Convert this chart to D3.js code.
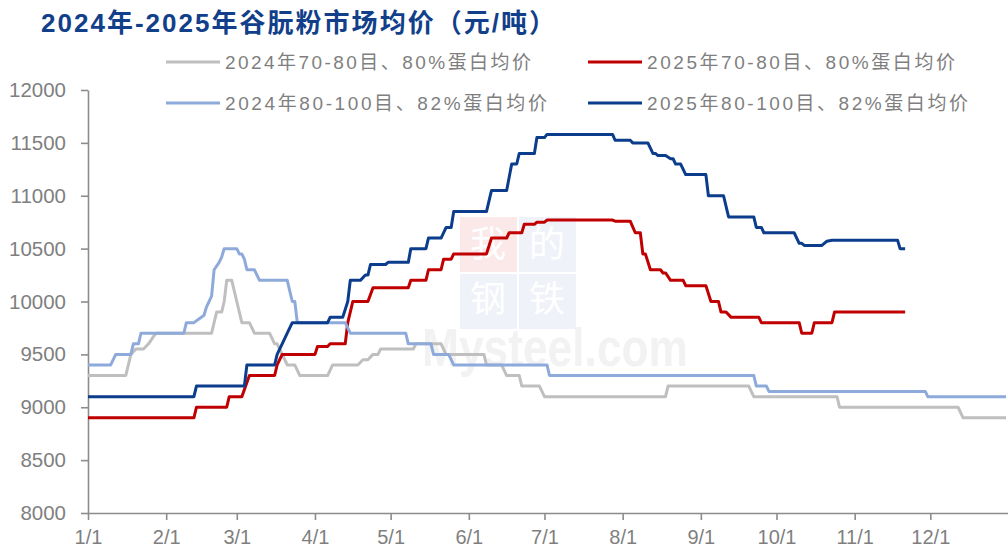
<!DOCTYPE html>
<html>
<head>
<meta charset="utf-8">
<script src="https://cdn.jsdelivr.net/npm/d3@7"></script>
<style>
  body { margin: 0; background: #fff; }
  svg { display: block; }
  text { font-family: "Liberation Sans", "Noto Sans CJK SC", sans-serif; }
</style>
</head>
<body>
<svg id="chart" width="1008" height="551"></svg>
<script>
// titre et séries
const title = "2024年-2025年谷朊粉市场均价（元/吨）";
const seriesNames = [
  "2024年70-80目、80%蛋白均价",
  "2025年70-80目、80%蛋白均价",
  "2024年80-100目、82%蛋白均价",
  "2025年80-100目、82%蛋白均价"
];
const seriesColors = ["#bfbfbf", "#c00000", "#8eaadb", "#0b3d8c"];

const yTicks = [8000, 8500, 9000, 9500, 10000, 10500, 11000, 11500, 12000];
const monthTicks = ["01-01", "02-01", "03-01", "04-01", "05-01", "06-01", "07-01", "08-01", "09-01", "10-01", "11-01", "12-01"];

// [mois-jour, prix]
const gray24 = [["01-01",9300],["01-16",9300],["01-17",9400],["01-18",9500],["01-20",9550],["01-23",9550],["01-25",9600],["01-27",9670],["01-28",9700],["02-19",9700],["02-20",9800],["02-21",9900],["02-23",9900],["02-24",10000],["02-25",10200],["02-27",10200],["03-01",10000],["03-02",9900],["03-03",9800],["03-06",9800],["03-08",9700],["03-14",9700],["03-16",9600],["03-17",9600],["03-19",9500],["03-21",9400],["03-24",9400],["03-26",9300],["04-06",9300],["04-08",9400],["04-18",9400],["04-20",9450],["04-22",9450],["04-24",9500],["04-26",9500],["04-27",9550],["05-10",9550],["05-11",9600],["05-21",9600],["05-23",9500],["06-07",9500],["06-08",9400],["06-14",9400],["06-16",9300],["06-21",9300],["06-22",9200],["06-29",9200],["07-01",9100],["08-18",9100],["08-19",9200],["09-20",9200],["09-22",9100],["10-25",9100],["10-26",9000],["12-12",9000],["12-14",8900],["12-31",8900]];

const red25 = [["01-01",8900],["02-12",8900],["02-13",9000],["02-25",9000],["02-26",9100],["03-03",9100],["03-06",9300],["03-16",9300],["03-17",9400],["03-19",9500],["04-01",9500],["04-02",9575],["04-06",9575],["04-07",9600],["04-13",9600],["04-14",9800],["04-16",10000],["04-22",10000],["04-24",10130],["05-08",10130],["05-09",10200],["05-15",10200],["05-16",10300],["05-21",10300],["05-22",10400],["05-25",10400],["05-26",10450],["06-08",10450],["06-10",10600],["06-16",10600],["06-17",10650],["06-22",10650],["06-23",10730],["06-27",10730],["06-28",10750],["07-01",10750],["07-02",10770],["07-28",10770],["07-29",10760],["08-04",10760],["08-06",10650],["08-08",10650],["08-09",10450],["08-10",10450],["08-12",10300],["08-16",10300],["08-17",10270],["08-18",10270],["08-20",10200],["08-25",10200],["08-26",10150],["09-03",10150],["09-05",10000],["09-08",10000],["09-09",9900],["09-11",9900],["09-13",9850],["09-24",9850],["09-25",9800],["10-10",9800],["10-11",9700],["10-15",9700],["10-16",9800],["10-23",9800],["10-24",9900],["11-21",9900]];

const blue24 = [["01-01",9400],["01-10",9400],["01-12",9500],["01-18",9500],["01-19",9600],["01-21",9600],["01-22",9700],["02-08",9700],["02-09",9800],["02-12",9800],["02-16",9870],["02-17",9950],["02-19",10050],["02-20",10300],["02-22",10370],["02-23",10420],["02-24",10500],["03-01",10500],["03-02",10450],["03-03",10450],["03-04",10400],["03-05",10300],["03-08",10300],["03-10",10200],["03-21",10200],["03-23",10000],["03-24",10000],["03-25",9800],["04-13",9800],["04-15",9700],["05-07",9700],["05-08",9600],["05-17",9600],["05-18",9500],["05-24",9500],["05-26",9400],["07-02",9400],["07-03",9300],["09-22",9300],["09-23",9200],["09-27",9200],["09-28",9150],["11-29",9150],["11-30",9100],["12-31",9100]];

const navy25 = [["01-01",9100],["02-12",9100],["02-13",9200],["03-04",9200],["03-05",9400],["03-16",9400],["03-17",9500],["03-19",9600],["03-21",9700],["03-23",9800],["04-06",9800],["04-07",9850],["04-12",9850],["04-14",10000],["04-15",10200],["04-19",10200],["04-21",10250],["04-22",10250],["04-23",10350],["04-29",10350],["04-30",10370],["05-08",10370],["05-09",10500],["05-15",10500],["05-16",10600],["05-21",10600],["05-23",10700],["05-25",10700],["05-26",10850],["06-08",10850],["06-10",11050],["06-16",11050],["06-18",11300],["06-20",11300],["06-21",11400],["06-27",11400],["06-28",11550],["07-01",11550],["07-02",11580],["07-28",11580],["07-29",11525],["08-04",11525],["08-05",11500],["08-11",11500],["08-13",11400],["08-14",11400],["08-15",11380],["08-18",11380],["08-20",11350],["08-21",11350],["08-22",11300],["08-24",11300],["08-26",11200],["09-03",11200],["09-04",11000],["09-10",11000],["09-12",10800],["09-22",10800],["09-23",10700],["09-25",10700],["09-26",10650],["10-08",10650],["10-10",10550],["10-11",10550],["10-12",10530],["10-19",10530],["10-21",10570],["10-23",10580],["11-18",10580],["11-19",10500],["11-21",10500]];

const seriesData = [gray24, red25, blue24, navy25];

const parseDay = d3.timeParse("%Y-%m-%d");
const toDate = s => parseDay("2025-" + s);

const svg = d3.select("#chart");

const x = d3.scaleTime()
  .domain([toDate("01-01"), toDate("12-31")])
  .range([88, 1006]);

const y = d3.scaleLinear()
  .domain([8000, 12000])
  .range([513, 90]);

// filigrane Mysteel
const wm = svg.append("g").attr("class", "watermark");
const wmChars = ["我", "的", "钢", "铁"];
wm.selectAll("rect")
  .data(wmChars)
  .enter()
  .append("rect")
  .attr("x", (d, i) => 460 + (i % 2) * 59)
  .attr("y", (d, i) => 217 + Math.floor(i / 2) * 57)
  .attr("width", 57)
  .attr("height", 55)
  .attr("fill", (d, i) => i === 0 ? "#fbe9e9" : "#eff2f8");
wm.selectAll("text.wmc")
  .data(wmChars)
  .enter()
  .append("text")
  .attr("class", "wmc")
  .attr("x", (d, i) => 488 + (i % 2) * 59)
  .attr("y", (d, i) => 244 + Math.floor(i / 2) * 55)
  .attr("text-anchor", "middle")
  .attr("dominant-baseline", "central")
  .attr("font-size", 36)
  .attr("font-family", "Noto Sans CJK SC")
  .attr("fill", "#ffffff")
  .text(d => d);
wm.append("text")
  .attr("x", 422)
  .attr("y", 366)
  .attr("font-size", 54)
  .attr("font-weight", "bold")
  .attr("fill", "#f2f2f2")
  .attr("textLength", 266)
  .attr("lengthAdjust", "spacingAndGlyphs")
  .text("Mysteel.com");

// axes
const axisColor = "#8c8c8c";
const labelColor = "#7f7f7f";

const yAxis = svg.append("g")
  .attr("transform", "translate(88,0)")
  .call(d3.axisLeft(y)
    .tickValues(yTicks)
    .tickFormat(d3.format("d"))
    .tickSize(7)
    .tickPadding(15)
    .tickSizeOuter(0));

const xAxis = svg.append("g")
  .attr("transform", "translate(0,513)")
  .call(d3.axisBottom(x)
    .tickValues(monthTicks.map(toDate))
    .tickFormat(d => (d.getMonth() + 1) + "/1")
    .tickSize(7)
    .tickPadding(10)
    .tickSizeOuter(0));

[yAxis, xAxis].forEach(g => {
  g.select(".domain").attr("stroke", axisColor).attr("stroke-width", 1.6);
  g.selectAll(".tick line").attr("stroke", axisColor).attr("stroke-width", 1.6);
  g.selectAll(".tick text")
    .attr("fill", labelColor)
    .attr("font-size", 20)
    .attr("font-family", "Liberation Sans");
});
yAxis.selectAll(".tick text").attr("font-size", 20.5);
xAxis.select(".domain").attr("d", "M88,0.5H1008");

// lignes
const line = d3.line()
  .x(d => x(toDate(d[0])))
  .y(d => y(d[1]));

svg.append("g")
  .selectAll("path")
  .data(seriesData)
  .enter()
  .append("path")
  .attr("d", line)
  .attr("fill", "none")
  .attr("stroke", (d, i) => seriesColors[i])
  .attr("stroke-width", 3)
  .attr("stroke-linejoin", "round");

// légende
const legendPos = [
  { lx: 166, ly: 62, w: 306 },
  { lx: 588, ly: 62, w: 308 },
  { lx: 166, ly: 103, w: 322 },
  { lx: 588, ly: 103, w: 321 }
];
const legend = svg.append("g").attr("class", "legend");
legendPos.forEach((p, i) => {
  legend.append("line")
    .attr("x1", p.lx).attr("x2", p.lx + 54)
    .attr("y1", p.ly).attr("y2", p.ly)
    .attr("stroke", seriesColors[i])
    .attr("stroke-width", 3);
  legend.append("text")
    .attr("x", p.lx + 59)
    .attr("y", p.ly)
    .attr("dominant-baseline", "central")
    .attr("font-size", 19)
    .attr("fill", labelColor)
    .attr("textLength", p.w)
    .attr("lengthAdjust", "spacing")
    .text(seriesNames[i]);
});

// titre
svg.append("text")
  .attr("x", 41)
  .attr("y", 32)
  .attr("font-size", 26)
  .attr("font-weight", "bold")
  .attr("fill", "#123f8a")
  .attr("textLength", 514)
  .attr("lengthAdjust", "spacing")
  .text(title);
</script>
</body>
</html>
